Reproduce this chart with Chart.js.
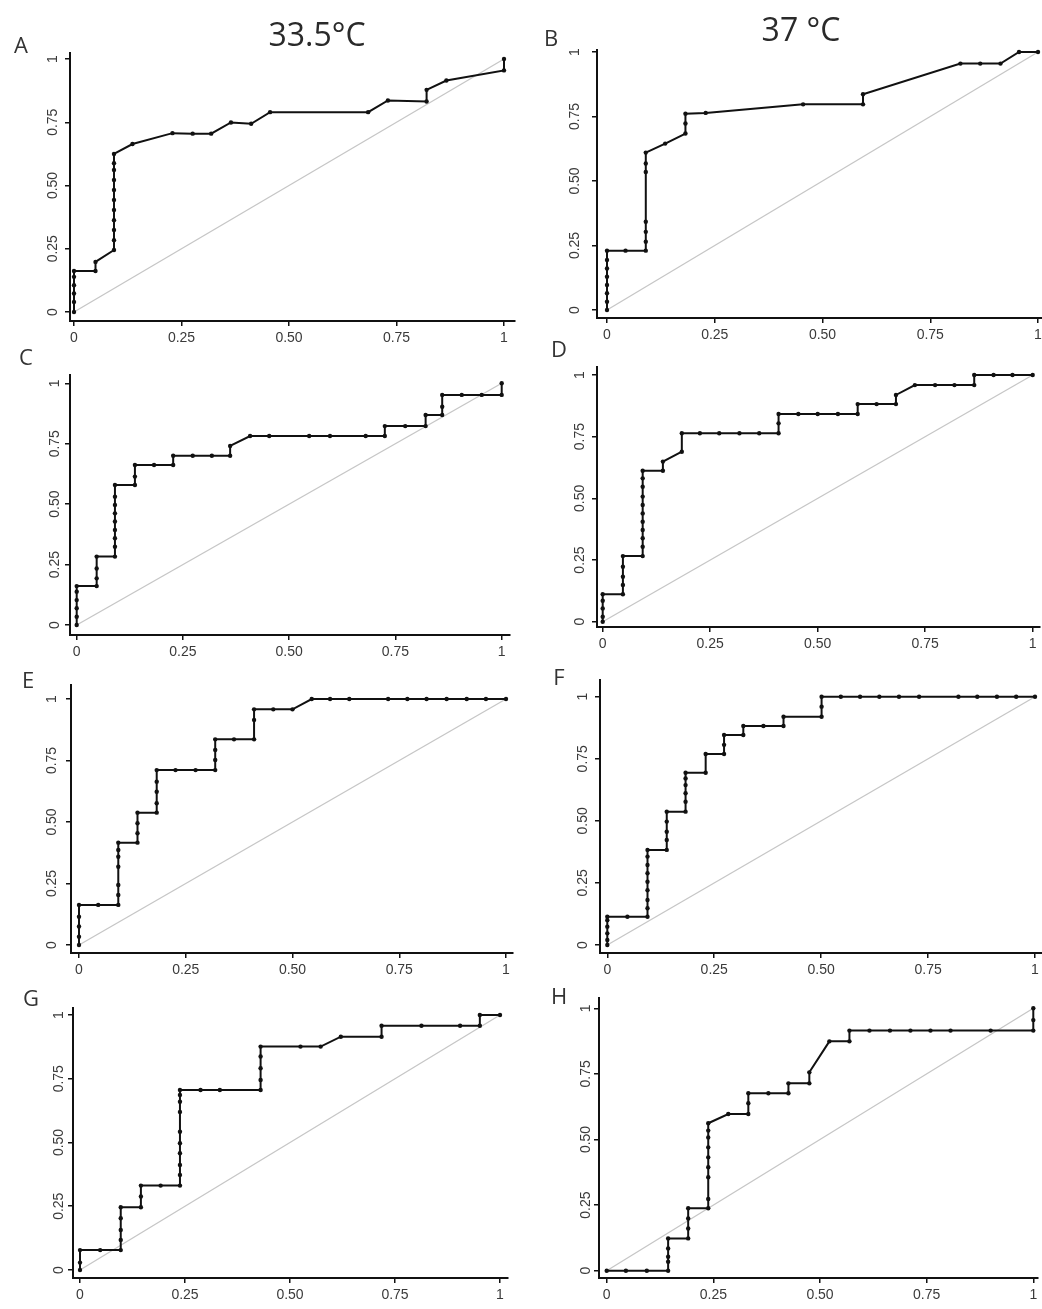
<!DOCTYPE html>
<html>
<head>
<meta charset="utf-8">
<title>ROC curves</title>
<script src="https://cdn.jsdelivr.net/npm/chart.js@4.4.1/dist/chart.umd.min.js"></script>
<style>
    body { margin: 0; background: #fff; width: 1042px; height: 1309px; position: relative; overflow: hidden; font-family: 'Open Sans', sans-serif; }
    .letter { position: absolute; font-size: 22px; color: #333; transform: translate(-50%, -50%); line-height: 1; }
    .col-title { position: absolute; font-size: 32px; color: #2a2a2a; transform: translate(-50%, -50%); line-height: 1; white-space: nowrap; }
    canvas { position: absolute; }
</style>
</head>
<body>
<script>
// Shared axis ticks
const tickValues = [0, 0.25, 0.5, 0.75, 1];
const tickLabels = ['0', '0.25', '0.50', '0.75', '1'];
const colTitles = ['33.5°C', '37 °C'];

// A
const fprA = [0, 0, 0, 0, 0, 0, 0.05, 0.05, 0.093, 0.093, 0.093, 0.093, 0.093, 0.093, 0.093, 0.093, 0.093, 0.093, 0.093,
    0.136, 0.229, 0.276, 0.319, 0.365, 0.412, 0.456, 0.684, 0.73, 0.82, 0.82, 0.866, 1, 1];
const tprA = [0, 0.04, 0.073, 0.106, 0.139, 0.162, 0.162, 0.198, 0.245, 0.284, 0.324, 0.363, 0.403, 0.443, 0.482, 0.522, 0.561, 0.588, 0.625,
    0.664, 0.707, 0.705, 0.705, 0.749, 0.744, 0.79, 0.79, 0.836, 0.832, 0.878, 0.915, 0.955, 1];

// B
const fprB = [0, 0, 0, 0, 0, 0, 0, 0, 0.043, 0.09, 0.09, 0.09, 0.09, 0.09, 0.09, 0.09,
    0.135, 0.182, 0.182, 0.182, 0.229, 0.455, 0.594, 0.594, 0.82, 0.866, 0.913, 0.956, 1];
const tprB = [0, 0.032, 0.065, 0.097, 0.129, 0.161, 0.194, 0.23, 0.23, 0.23, 0.265, 0.303, 0.342, 0.535, 0.568, 0.61,
    0.645, 0.684, 0.723, 0.761, 0.764, 0.797, 0.797, 0.836, 0.955, 0.955, 0.955, 1, 1];

// C
const fprC = [0, 0, 0, 0, 0, 0, 0.047, 0.047, 0.047, 0.047, 0.09, 0.09, 0.09, 0.09, 0.09, 0.09, 0.09, 0.09, 0.09,
    0.137, 0.137, 0.137, 0.182, 0.227, 0.227, 0.273, 0.318, 0.361, 0.361, 0.408, 0.453, 0.547, 0.596, 0.68, 0.725, 0.725,
    0.773, 0.821, 0.821, 0.86, 0.86, 0.86, 0.906, 0.953, 1, 1];
const tprC = [0, 0.034, 0.069, 0.103, 0.138, 0.161, 0.161, 0.193, 0.234, 0.283, 0.283, 0.324, 0.359, 0.393, 0.428, 0.462, 0.497, 0.531, 0.579,
    0.579, 0.614, 0.662, 0.662, 0.662, 0.7, 0.7, 0.7, 0.7, 0.741, 0.782, 0.782, 0.782, 0.782, 0.782, 0.782, 0.823,
    0.823, 0.823, 0.869, 0.869, 0.903, 0.952, 0.952, 0.952, 0.952, 1];

// D
const fprD = [0, 0, 0, 0, 0, 0.047, 0.047, 0.047, 0.047, 0.047, 0.093, 0.093, 0.093, 0.093, 0.093, 0.093, 0.093, 0.093, 0.093, 0.093, 0.093,
    0.14, 0.14, 0.184, 0.184, 0.226, 0.271, 0.318, 0.364, 0.409, 0.409, 0.409, 0.455, 0.5, 0.547, 0.593, 0.593, 0.637, 0.682, 0.682,
    0.726, 0.773, 0.818, 0.864, 0.864, 0.909, 0.953, 1];
const tprD = [0, 0.02, 0.054, 0.085, 0.111, 0.111, 0.149, 0.182, 0.223, 0.266, 0.266, 0.304, 0.338, 0.372, 0.405, 0.439, 0.473, 0.507, 0.547, 0.581, 0.612,
    0.612, 0.649, 0.689, 0.764, 0.764, 0.764, 0.764, 0.764, 0.764, 0.804, 0.842, 0.842, 0.842, 0.842, 0.842, 0.882, 0.882, 0.882, 0.919,
    0.959, 0.959, 0.959, 0.959, 1, 1, 1, 1];

// E
const fprE = [0, 0, 0, 0, 0, 0.045, 0.092, 0.092, 0.092, 0.092, 0.092, 0.092, 0.092, 0.137, 0.137, 0.137, 0.137,
    0.182, 0.182, 0.182, 0.182, 0.182, 0.226, 0.273, 0.319, 0.319, 0.319, 0.319, 0.363, 0.41, 0.41, 0.41,
    0.455, 0.5, 0.545, 0.588, 0.633, 0.724, 0.769, 0.814, 0.861, 0.908, 0.953, 1];
const tprE = [0, 0.034, 0.075, 0.115, 0.163, 0.163, 0.163, 0.203, 0.244, 0.318, 0.359, 0.386, 0.416, 0.416, 0.454, 0.495, 0.538,
    0.538, 0.576, 0.623, 0.664, 0.711, 0.711, 0.711, 0.711, 0.752, 0.793, 0.836, 0.836, 0.836, 0.915, 0.958,
    0.958, 0.958, 1, 1, 1, 1, 1, 1, 1, 1, 1, 1];

// F
const fprF = [0, 0, 0, 0, 0, 0, 0.047, 0.094, 0.094, 0.094, 0.094, 0.094, 0.094, 0.094, 0.094, 0.094,
    0.139, 0.139, 0.139, 0.139, 0.139, 0.183, 0.183, 0.183, 0.183, 0.183, 0.183, 0.23, 0.23, 0.273, 0.273, 0.273,
    0.318, 0.318, 0.365, 0.412, 0.412, 0.501, 0.501, 0.501, 0.546, 0.591, 0.636, 0.682, 0.729, 0.821, 0.865, 0.911, 0.956, 1];
const tprF = [0, 0.02, 0.047, 0.074, 0.1, 0.114, 0.114, 0.114, 0.148, 0.181, 0.221, 0.255, 0.289, 0.322, 0.356, 0.383,
    0.383, 0.423, 0.456, 0.497, 0.537, 0.537, 0.577, 0.611, 0.644, 0.671, 0.694, 0.694, 0.769, 0.769, 0.806, 0.846,
    0.846, 0.882, 0.882, 0.882, 0.919, 0.919, 0.96, 1, 1, 1, 1, 1, 1, 1, 1, 1, 1, 1];

// G
const fprG = [0, 0, 0, 0.048, 0.097, 0.097, 0.097, 0.097, 0.097, 0.145, 0.145, 0.145, 0.192, 0.238, 0.238, 0.238, 0.238, 0.238,
    0.238, 0.238, 0.238, 0.238, 0.238, 0.287, 0.333, 0.43, 0.43, 0.43, 0.43, 0.43, 0.525, 0.573, 0.621, 0.718, 0.718,
    0.813, 0.905, 0.952, 0.952, 1];
const tprG = [0, 0.029, 0.078, 0.078, 0.078, 0.118, 0.157, 0.203, 0.246, 0.246, 0.288, 0.331, 0.331, 0.331, 0.373, 0.412, 0.458, 0.497,
    0.542, 0.62, 0.66, 0.686, 0.706, 0.706, 0.706, 0.706, 0.745, 0.791, 0.837, 0.876, 0.876, 0.876, 0.915, 0.915, 0.958,
    0.958, 0.958, 0.958, 1, 1];

// H
const fprH = [0, 0.045, 0.094, 0.144, 0.144, 0.144, 0.144, 0.144, 0.191, 0.191, 0.191, 0.191, 0.238, 0.238, 0.238, 0.238,
    0.238, 0.238, 0.238, 0.238, 0.238, 0.285, 0.332, 0.332, 0.332, 0.379, 0.426, 0.426, 0.475, 0.475, 0.522, 0.569, 0.569,
    0.616, 0.664, 0.712, 0.759, 0.806, 0.9, 1, 1, 1];
const tprH = [0, 0, 0, 0, 0.034, 0.053, 0.085, 0.123, 0.123, 0.161, 0.199, 0.238, 0.238, 0.273, 0.356, 0.394,
    0.432, 0.47, 0.508, 0.534, 0.562, 0.597, 0.597, 0.638, 0.676, 0.676, 0.676, 0.714, 0.714, 0.756, 0.874, 0.874, 0.915,
    0.915, 0.915, 0.915, 0.915, 0.915, 0.915, 0.915, 0.955, 1];

// Page layout: axis box [left, top, right, bottom], pixel of data 0 and 1 on each axis
const panels = [
    { key: 'A', fpr: fprA, tpr: tprA, box: [70, 53, 515, 321], xpx: [74, 504], ypx: [312, 59], gap: 17, letter: [21, 44] },
    { key: 'B', fpr: fprB, tpr: tprB, box: [597, 50, 1042, 318], xpx: [607, 1038], ypx: [310, 52], gap: 22, letter: [551, 37] },
    { key: 'C', fpr: fprC, tpr: tprC, box: [70, 375, 510, 635], xpx: [76.7, 501.7], ypx: [625, 383.3], gap: 15, letter: [26, 356] },
    { key: 'D', fpr: fprD, tpr: tprD, box: [597, 367, 1040, 627], xpx: [602.7, 1032.7], ypx: [621.7, 375], gap: 17, letter: [559, 348] },
    { key: 'E', fpr: fprE, tpr: tprE, box: [71, 685, 513, 953], xpx: [79, 506], ypx: [945, 699], gap: 19, letter: [28, 679] },
    { key: 'F', fpr: fprF, tpr: tprF, box: [600, 680, 1042, 953], xpx: [607.3, 1035], ypx: [945, 696.7], gap: 17, letter: [559, 676] },
    { key: 'G', fpr: fprG, tpr: tprG, box: [73, 1008, 508, 1278], xpx: [80, 500], ypx: [1270, 1015], gap: 14, letter: [31, 997] },
    { key: 'H', fpr: fprH, tpr: tprH, box: [599, 998, 1038, 1278], xpx: [606.7, 1033.3], ypx: [1270.7, 1008.3], gap: 13, letter: [559, 995] }
];
const titlePos = [[317, 34], [801, 29]];

const PAD_L = 45, PAD_R = 10, PAD_T = 10, PAD_B = 40;

Chart.defaults.font.family = "'Liberation Sans', Arial, sans-serif";
Chart.defaults.font.size = 14;
Chart.defaults.color = '#3a3a3a';

// R-style vertical y tick labels
const yLabelPlugin = {
    id: 'yLabels',
    afterDraw(chart, args, opts) {
        const ys = chart.scales.y;
        const ctx = chart.ctx;
        const cx = chart.chartArea.left - opts.gap;
        ctx.save();
        ctx.font = "14px 'Liberation Sans', Arial, sans-serif";
        ctx.fillStyle = '#3a3a3a';
        ctx.textAlign = 'center';
        ctx.textBaseline = 'middle';
        ys.ticks.forEach(t => {
            ctx.save();
            ctx.translate(cx, ys.getPixelForValue(t.value));
            ctx.rotate(-Math.PI / 2);
            ctx.fillText(tickLabels[tickValues.indexOf(t.value)], 0, 0);
            ctx.restore();
        });
        ctx.restore();
    }
};

function addText(cls, text, pos) {
    const el = document.createElement('div');
    el.className = cls;
    el.textContent = text;
    el.style.left = pos[0] + 'px';
    el.style.top = pos[1] + 'px';
    document.body.appendChild(el);
}

const axisStyle = {
    grid: { drawOnChartArea: false, drawTicks: true, tickLength: 5, color: '#111', lineWidth: 1.5 },
    border: { color: '#111', width: 2 }
};

panels.forEach(p => {
    const [l, t, r, b] = p.box;
    const w = r - l + PAD_L + PAD_R;
    const h = b - t + PAD_T + PAD_B;
    const canvas = document.createElement('canvas');
    canvas.id = 'roc' + p.key;
    canvas.width = w;
    canvas.height = h;
    canvas.style.left = (l - PAD_L) + 'px';
    canvas.style.top = (t - PAD_T) + 'px';
    canvas.style.width = w + 'px';
    canvas.style.height = h + 'px';
    document.body.appendChild(canvas);

    const xUnit = p.xpx[1] - p.xpx[0];
    const yUnit = p.ypx[0] - p.ypx[1];

    new Chart(canvas, {
        type: 'scatter',
        data: {
            datasets: [
                {
                    data: p.fpr.map((x, i) => ({ x: x, y: p.tpr[i] })),
                    showLine: true,
                    borderColor: '#111',
                    borderWidth: 2,
                    pointRadius: 2.2,
                    pointBackgroundColor: '#111',
                    pointBorderWidth: 0,
                    tension: 0,
                    clip: false
                },
                {
                    data: [{ x: 0, y: 0 }, { x: 1, y: 1 }],
                    showLine: true,
                    borderColor: '#c6c6c6',
                    borderWidth: 1.3,
                    pointRadius: 0
                }
            ]
        },
        options: {
            responsive: false,
            animation: false,
            devicePixelRatio: 1,
            layout: { padding: { left: 0, top: PAD_T, right: PAD_R, bottom: 0 } },
            plugins: {
                legend: { display: false },
                tooltip: { enabled: false },
                yLabels: { gap: p.gap }
            },
            scales: {
                x: {
                    type: 'linear',
                    min: -(p.xpx[0] - l) / xUnit,
                    max: 1 + (r - p.xpx[1]) / xUnit,
                    afterBuildTicks: s => { s.ticks = tickValues.map(v => ({ value: v })); },
                    afterFit: s => { s.height = PAD_B; },
                    ticks: {
                        padding: 4,
                        maxRotation: 0,
                        callback: v => tickLabels[tickValues.indexOf(v)]
                    },
                    ...axisStyle
                },
                y: {
                    type: 'linear',
                    min: -(b - p.ypx[0]) / yUnit,
                    max: 1 + (p.ypx[1] - t) / yUnit,
                    afterBuildTicks: s => { s.ticks = tickValues.map(v => ({ value: v })); },
                    afterFit: s => { s.width = PAD_L; },
                    ticks: { display: false },
                    ...axisStyle
                }
            }
        },
        plugins: [yLabelPlugin]
    });

    addText('letter', p.key, p.letter);
});

colTitles.forEach((txt, i) => addText('col-title', txt, titlePos[i]));
</script>
</body>
</html>
